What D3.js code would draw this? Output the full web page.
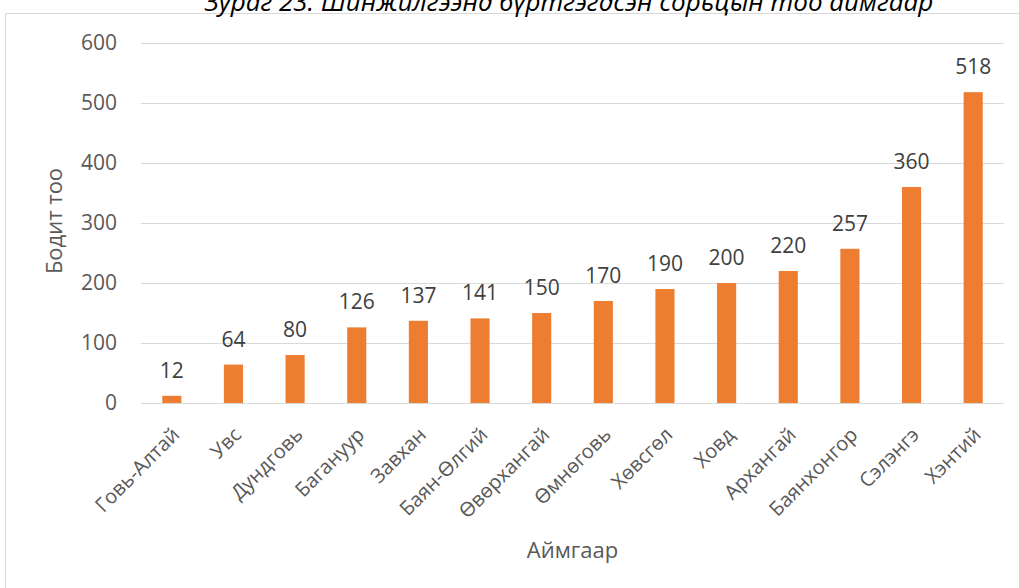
<!DOCTYPE html>
<html>
<head>
<meta charset="utf-8">
<script src="https://cdn.jsdelivr.net/npm/d3@7"></script>
<style>
  body { margin: 0; background: #fff; }
  svg text { font-family: "Open Sans", "Noto Sans", sans-serif; fill: #595959; }
</style>
</head>
<body>
<div id="chart"></div>
<script>
  var categories = ['Говь-Алтай', 'Увс', 'Дундговь', 'Багануур', 'Завхан', 'Баян-Өлгий', 'Өвөрхангай',
                    'Өмнөговь', 'Хөвсгөл', 'Ховд', 'Архангай', 'Баянхонгор', 'Сэлэнгэ', 'Хэнтий'],
      values = [12, 64, 80, 126, 137, 141, 150, 170, 190, 200, 220, 257, 360, 518],
      yTicks = [0, 100, 200, 300, 400, 500, 600],
      titleText = 'Зураг 23. Шинжилгээнд бүртгэгдсэн сорьцын тоо аймгаар',
      yTitle = 'Бодит тоо',
      xTitle = 'Аймгаар';

  var W = 1019, H = 588,
      margin = {top: 43, right: 15, bottom: 185, left: 141},
      width = W - margin.left - margin.right,
      height = H - margin.top - margin.bottom;

  var svg = d3.select('#chart').append('svg')
      .attr('width', W)
      .attr('height', H);

  // chart frame
  svg.append('rect')
    .attr('x', 5.5).attr('y', 13.5)
    .attr('width', W - 4).attr('height', H)
    .attr('fill', 'none')
    .attr('stroke', '#d9d9d9');

  // caption above the frame, cut by the top edge as in the source image
  svg.append('text')
    .attr('x', 569).attr('y', 11)
    .attr('text-anchor', 'middle')
    .style('font-size', '26px')
    .style('font-style', 'italic')
    .style('fill', '#000')
    .text(titleText);

  var g = svg.append('g')
      .attr('transform', 'translate(' + margin.left + ',' + margin.top + ')');

  var x = d3.scaleBand().domain(categories).range([0, width]).paddingInner(0.69).paddingOuter(0.345),
      y = d3.scaleLinear().domain([0, 600]).range([height, 0]);

  // gridlines
  g.selectAll('.grid')
    .data(yTicks)
  .enter().append('line')
    .attr('x1', 0).attr('x2', width)
    .attr('y1', function(d) { return Math.round(y(d)) + 0.5; })
    .attr('y2', function(d) { return Math.round(y(d)) + 0.5; })
    .attr('stroke', '#d9d9d9')
    .attr('stroke-width', 1);

  // y axis labels
  var yAxis = g.append('g')
    .call(d3.axisLeft(y).tickValues(yTicks).tickSize(0).tickPadding(24));
  yAxis.select('.domain').remove();
  yAxis.selectAll('text').style('font-size', '21px').attr('fill', '#595959');

  // bars
  g.selectAll('.bar')
    .data(values)
  .enter().append('rect')
    .attr('class', 'bar')
    .attr('x', function(d, i) { return x(categories[i]); })
    .attr('width', x.bandwidth())
    .attr('y', function(d) { return y(d); })
    .attr('height', function(d) { return height - y(d); })
    .attr('fill', '#ed7d31');

  // value labels
  g.selectAll('.val')
    .data(values)
  .enter().append('text')
    .attr('x', function(d, i) { return x(categories[i]) + x.bandwidth() / 2; })
    .attr('y', function(d) { return y(d) - 18; })
    .attr('text-anchor', 'middle')
    .style('font-size', '21px')
    .style('fill', '#404040')
    .text(function(d) { return d; });

  // x axis labels
  var xAxis = g.append('g')
    .attr('transform', 'translate(0,' + height + ')')
    .call(d3.axisBottom(x).tickSize(0).tickPadding(0));
  xAxis.select('.domain').remove();
  xAxis.selectAll('text')
    .style('font-size', '20px')
    .attr('fill', '#595959')
    .style('text-anchor', 'end')
    .attr('dy', 0)
    .attr('transform', 'translate(9,33) rotate(-45)');

  // axis titles
  svg.append('text')
    .attr('x', margin.left + width / 2).attr('y', 558)
    .attr('text-anchor', 'middle')
    .style('font-size', '22px')
    .text(xTitle);

  svg.append('text')
    .attr('transform', 'translate(62,' + (margin.top + height / 2 - 2) + ') rotate(-90)')
    .attr('text-anchor', 'middle')
    .style('font-size', '22px')
    .text(yTitle);
</script>
</body>
</html>
